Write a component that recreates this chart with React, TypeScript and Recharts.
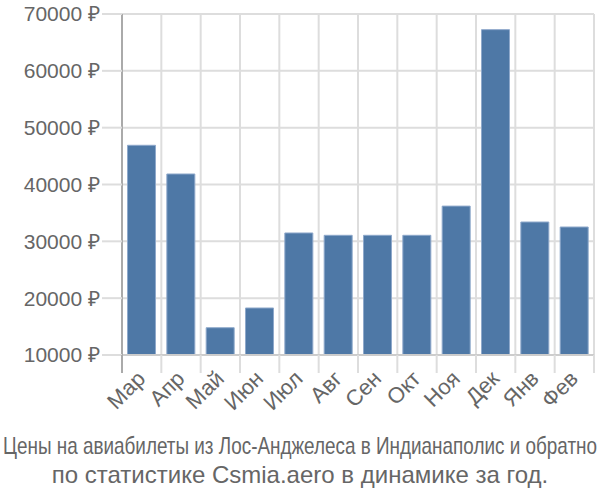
import { BarChart, Bar, XAxis, YAxis, CartesianGrid } from "recharts";

const months = ["Мар", "Апр", "Май", "Июн", "Июл", "Авг", "Сен", "Окт", "Ноя", "Дек", "Янв", "Фев"];
const prices = [46900, 41850, 14800, 18270, 31470, 31060, 31060, 31060, 36200, 67250, 33400, 32520];
const yTicks = [10000, 20000, 30000, 40000, 50000, 60000, 70000];
const titleLines = [
  "Цены на авиабилеты из Лос-Анджелеса в Индианаполис и обратно",
  "по статистике Csmia.aero в динамике за год.",
];

const data = months.map((m, i) => ({ name: m, price: prices[i] }));

const font = "'Liberation Sans', Arial, sans-serif";
const textColor = "#666";
const gridColor = "#dddddd";
const axisColor = "#aaaaaa";

const MonthTick = (props: any) => {
  const { x, y, payload, index, visibleTicksCount } = props;
  const half = payload?.offset ?? 19.6;
  const top = y - 8;
  return (
    <g>
      <line x1={x - half} y1={top} x2={x - half} y2={top + 18} stroke={index === 0 ? axisColor : gridColor} strokeWidth={2} />
      {index === visibleTicksCount - 1 && (
        <line x1={x + half} y1={top} x2={x + half} y2={top + 18} stroke={gridColor} strokeWidth={2} />
      )}
      <text
        x={x + 5}
        y={y + 17}
        transform={`rotate(-45, ${x + 5}, ${y + 17})`}
        textAnchor="end"
        fontSize={22}
        fontFamily={font}
        fill={textColor}
      >
        {payload.value}
      </text>
    </g>
  );
};

const App = () => {
  return (
    <div style={{ position: "absolute", left: 0, top: 0, width: 600, height: 500, background: "#fff" }}>
      <BarChart
        width={600}
        height={500}
        data={data}
        margin={{ top: 14, right: 6, bottom: 55, left: 0 }}
        barCategoryGap="14%"
      >
        <CartesianGrid
          stroke={gridColor}
          strokeWidth={2}
          verticalCoordinatesGenerator={({ offset }: any) =>
            months.map((_, i) => offset.left + (i * offset.width) / months.length).concat(offset.left + offset.width)
          }
        />
        <XAxis
          dataKey="name"
          interval={0}
          height={90}
          tickLine={false}
          axisLine={{ stroke: "#cccccc", strokeWidth: 2 }}
          tick={<MonthTick />}
        />
        <YAxis
          width={122}
          domain={[10000, 70000]}
          ticks={yTicks}
          interval={0}
          tickSize={20}
          tickMargin={2}
          tickLine={{ stroke: gridColor, strokeWidth: 2 }}
          axisLine={{ stroke: axisColor, strokeWidth: 2 }}
          tickFormatter={(v: number) => `${v} ₽`}
          tick={{ fontSize: 21, fontFamily: font, fill: textColor }}
        />
        <Bar dataKey="price" fill="#4e78a6" stroke="#8fa9cb" strokeWidth={1} isAnimationActive={false} />
      </BarChart>
      <svg width={600} height={80} style={{ position: "absolute", left: 0, top: 425 }}>
        <text
          x={300}
          y={29}
          textAnchor="middle"
          fontSize={24}
          fontFamily={font}
          fill={textColor}
          textLength={594}
          lengthAdjust="spacingAndGlyphs"
        >
          {titleLines[0]}
        </text>
        <text x={300} y={58} textAnchor="middle" fontSize={24} fontFamily={font} fill={textColor}>
          {titleLines[1]}
        </text>
      </svg>
    </div>
  );
};

export default App;
